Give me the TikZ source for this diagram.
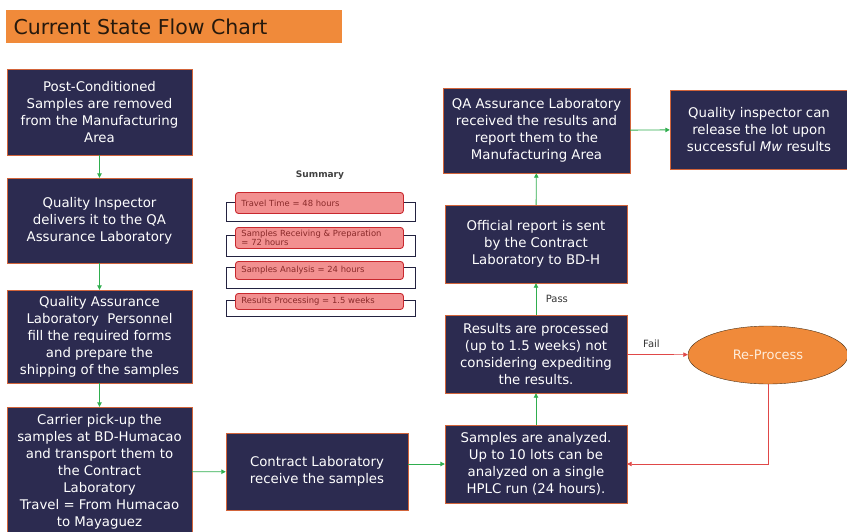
\documentclass[tikz,border=0pt]{standalone}
\usepackage{fontspec}
\setmainfont{DejaVu Sans}
\usetikzlibrary{shapes.geometric,arrows.meta}
\definecolor{navy}{HTML}{2C2B50}
\definecolor{rim}{HTML}{D2643A}
\definecolor{flow}{HTML}{2FAE4E}
\definecolor{failred}{HTML}{E04848}
\definecolor{titleorange}{HTML}{F08A3A}
\definecolor{sumfill}{HTML}{F29090}
\definecolor{sumrim}{HTML}{C8282E}
\definecolor{sumtext}{HTML}{8A2A2A}
\begin{document}
\begin{tikzpicture}[x=1pt,y=-1pt,
    stepbox/.style={draw=rim,fill=navy,text=white,align=center,
      font=\fontsize{13.3}{17}\selectfont,inner sep=0pt},
    go/.style={draw=flow,line width=0.9pt,-{Triangle[length=4.5pt,width=4.5pt]}},
    nogo/.style={draw=failred,line width=0.7pt,-{Triangle[length=4.5pt,width=4.5pt]}},
    sumbox/.style={draw=sumrim,fill=sumfill,rounded corners=3pt,line width=0.9pt,
      text=sumtext,align=left,anchor=north west,inner xsep=6pt,inner ysep=1pt,
      font=\fontsize{8.4}{9}\selectfont,text width=156pt},
    sumback/.style={draw=navy!80!black,line width=0.8pt}]
  \useasboundingbox (0,0) rectangle (847,531);
  % title
  \fill[titleorange] (6,10) rectangle (342,43);
  \node[anchor=west,text=black!80!brown,font=\fontsize{20.5}{20.5}\selectfont] (title) at (10,27) {Current State Flow Chart};
  % flow boxes
  \draw
    (99.5,112) node[stepbox,minimum width=185pt,minimum height=86pt] (1){Post-Conditioned\\Samples are removed\\from the Manufacturing\\Area}
    (99.5,220.5) node[stepbox,minimum width=185pt,minimum height=85pt] (2){Quality Inspector\\delivers it to the QA\\Assurance Laboratory}
    (99.5,336.5) node[stepbox,minimum width=185pt,minimum height=93pt] (3){Quality Assurance\\Laboratory\ \ Personnel\\fill the required forms\\and prepare the\\shipping of the samples}
    (99.5,472) node[stepbox,minimum width=185pt,minimum height=130pt] (4){Carrier pick-up the\\samples at BD-Humacao\\and transport them to\\the Contract\\Laboratory\\Travel = From Humacao\\to Mayaguez}
    (317,471.5) node[stepbox,minimum width=182pt,minimum height=77pt] (5){Contract Laboratory\\receive the samples}
    (536,464) node[stepbox,minimum width=182pt,minimum height=78pt] (6){Samples are analyzed.\\Up to 10 lots can be\\analyzed on a single\\HPLC run (24 hours).}
    (536,354) node[stepbox,minimum width=182pt,minimum height=78pt] (7){Results are processed\\(up to 1.5 weeks) not\\considering expediting\\the results.}
    (536,244) node[stepbox,minimum width=182pt,minimum height=78pt] (8){Official report is sent\\by the Contract\\Laboratory to BD-H}
    (536.5,130.5) node[stepbox,minimum width=187pt,minimum height=85pt] (9){QA Assurance Laboratory\\received the results and\\report them to the\\Manufacturing Area}
    (759,129.5) node[stepbox,minimum width=178pt,minimum height=79pt] (10){Quality inspector can\\release the lot upon\\successful \textit{Mw} results}
    (768,355) node[ellipse,draw=black!60!brown,fill=titleorange,text=orange!15,
      minimum width=160pt,minimum height=58pt,inner sep=0pt,font=\fontsize{13}{13}\selectfont] (11){Re-Process};
  % summary
  \node[font=\bfseries\fontsize{9}{9}\selectfont,text=black!75] (sum) at (320,175) {Summary};
  \draw[sumback] (226,202) rectangle (415,221);
  \draw[sumback] (226,235) rectangle (415,256);
  \draw[sumback] (226,267) rectangle (415,288);
  \draw[sumback] (226,300) rectangle (415,316);
  \node[sumbox,minimum height=21pt] (s1) at (235,192) {Travel Time = 48 hours};
  \node[sumbox,minimum height=21pt] (s2) at (235,227) {Samples Receiving \& Preparation\\= 72 hours};
  \node[sumbox,minimum height=18pt] (s3) at (235,261) {Samples Analysis = 24 hours};
  \node[sumbox,minimum height=16pt] (s4) at (235,293) {Results Processing = 1.5 weeks};
  \begin{scope}
    \draw[go] (1) to (2);
    \draw[go] (2) to (3);
    \draw[go] (3) to (4);
    \draw[go] (4) to (5);
    \draw[go] (5.east |- 6.west) to (6.west);
    \draw[go] (6) to (7);
    \draw[go] (7) to node[right=6pt,text=black!80,font=\fontsize{10}{10}\selectfont]{Pass} (8);
    \draw[go] (8) to (9);
    \draw[go] (9) to (10);
    \draw[nogo] (7) to node[above=3pt,pos=0.4,text=black!80,font=\fontsize{10}{10}\selectfont]{Fail} (11);
    \draw[nogo] (11.south) |- (6.east);
  \end{scope}
\end{tikzpicture}
\end{document}
